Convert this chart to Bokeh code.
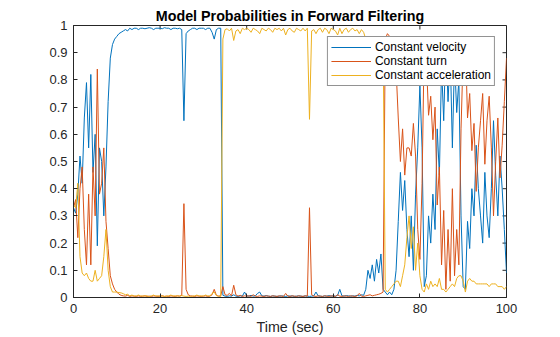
import numpy as np
from bokeh.plotting import figure
from bokeh.models import Range1d, FixedTicker, Legend, LegendItem
from bokeh.embed import file_html
from bokeh.resources import INLINE

# ---------------- data ----------------
time_sec = np.arange(0, 100.5, 0.5)

prob_constant_velocity = [
    0.33, 0.31, 0.38, 0.52, 0.42, 0.66, 0.79, 0.55, 0.82, 0.46,
    0.60, 0.19, 0.55, 0.50, 0.30, 0.48, 0.72, 0.88, 0.93, 0.95,
    0.96, 0.97, 0.975, 0.98, 0.985, 0.98, 0.99, 0.985, 0.99, 0.99,
    0.985, 0.99, 0.99, 0.988, 0.99, 0.992, 0.99, 0.985, 0.99, 0.99,
    0.99, 0.988, 0.992, 0.99, 0.99, 0.985, 0.99, 0.99, 0.988, 0.99,
    0.985, 0.65, 0.97, 0.98, 0.985, 0.99, 0.99, 0.985, 0.99, 0.99,
    0.99, 0.985, 0.99, 0.99, 0.975, 0.95, 0.985, 0.99, 0.99, 0.008,
    0.005, 0.004, 0.006, 0.005, 0.01, 0.005, 0.004, 0.006, 0.005, 0.02,
    0.006, 0.005, 0.008, 0.005, 0.006, 0.015, 0.02, 0.006, 0.005, 0.007,
    0.005, 0.004, 0.006, 0.005, 0.004, 0.005, 0.006, 0.005, 0.004, 0.006,
    0.005, 0.006, 0.004, 0.005, 0.006, 0.005, 0.004, 0.006, 0.005, 0.004,
    0.005, 0.006, 0.02, 0.006, 0.005, 0.004, 0.006, 0.005, 0.007, 0.005,
    0.006, 0.005, 0.008, 0.03, 0.006, 0.005, 0.007, 0.006, 0.005, 0.006,
    0.005, 0.008, 0.006, 0.01, 0.008, 0.03, 0.10, 0.07, 0.12, 0.06,
    0.14, 0.09, 0.16, 0.03, 0.02, 0.01, 0.02, 0.01, 0.03, 0.10,
    0.28, 0.46, 0.32, 0.43, 0.25, 0.15, 0.30, 0.10, 0.38, 0.55,
    0.78, 0.55, 0.04, 0.08, 0.30, 0.20, 0.38, 0.25, 0.62, 0.45,
    0.85, 0.65, 0.95, 0.72, 0.90, 0.55, 0.88, 0.68, 0.80, 0.30,
    0.04, 0.03, 0.28, 0.18, 0.40, 0.30, 0.56, 0.40, 0.30, 0.20,
    0.46, 0.30, 0.22, 0.40, 0.65, 0.45, 0.30, 0.52, 0.40, 0.25,
    0.09,
]

prob_constant_turn = [
    0.33, 0.36, 0.22, 0.40, 0.48, 0.25, 0.12, 0.38, 0.12, 0.48,
    0.30, 0.84, 0.38, 0.42, 0.55, 0.28, 0.18, 0.08, 0.05, 0.03,
    0.02, 0.012, 0.008, 0.006, 0.005, 0.008, 0.004, 0.006, 0.005, 0.004,
    0.006, 0.004, 0.005, 0.006, 0.004, 0.005, 0.004, 0.006, 0.005, 0.004,
    0.005, 0.006, 0.004, 0.005, 0.004, 0.006, 0.005, 0.004, 0.006, 0.005,
    0.008, 0.345, 0.03, 0.01, 0.006, 0.005, 0.004, 0.006, 0.005, 0.004,
    0.005, 0.006, 0.004, 0.005, 0.01, 0.03, 0.008, 0.005, 0.006, 0.04,
    0.01, 0.008, 0.015, 0.006, 0.045, 0.01, 0.005, 0.008, 0.004, 0.006,
    0.005, 0.006, 0.004, 0.01, 0.005, 0.004, 0.006, 0.005, 0.004, 0.006,
    0.005, 0.004, 0.006, 0.005, 0.004, 0.006, 0.005, 0.004, 0.015, 0.005,
    0.004, 0.006, 0.005, 0.004, 0.006, 0.005, 0.004, 0.006, 0.005, 0.33,
    0.01, 0.005, 0.004, 0.006, 0.005, 0.004, 0.006, 0.005, 0.004, 0.006,
    0.005, 0.004, 0.01, 0.005, 0.004, 0.006, 0.005, 0.004, 0.006, 0.005,
    0.004, 0.006, 0.015, 0.005, 0.004, 0.006, 0.008, 0.01, 0.006, 0.008,
    0.01, 0.012, 0.015, 0.02, 0.95, 0.97, 0.96, 0.95, 0.92, 0.84,
    0.66, 0.50, 0.62, 0.45, 0.55, 0.55, 0.52, 0.64, 0.52, 0.25,
    0.14, 0.42, 0.94, 0.87, 0.67, 0.74, 0.58, 0.70, 0.34, 0.48,
    0.12, 0.32, 0.03, 0.25, 0.06, 0.40, 0.08, 0.25, 0.12, 0.62,
    0.90, 0.95, 0.66, 0.75, 0.54, 0.64, 0.39, 0.55, 0.65, 0.75,
    0.49, 0.65, 0.74, 0.55, 0.30, 0.50, 0.66, 0.44, 0.56, 0.72,
    0.88,
]

prob_constant_acceleration = [
    0.34, 0.33, 0.42, 0.15, 0.09, 0.08, 0.09, 0.07, 0.06, 0.06,
    0.10, 0.06, 0.07, 0.08, 0.15, 0.25, 0.10, 0.04, 0.02, 0.02,
    0.02, 0.018, 0.017, 0.014, 0.01, 0.012, 0.006, 0.009, 0.005, 0.006,
    0.009, 0.006, 0.005, 0.006, 0.006, 0.003, 0.006, 0.009, 0.005, 0.006,
    0.005, 0.006, 0.004, 0.005, 0.006, 0.009, 0.005, 0.006, 0.006, 0.005,
    0.007, 0.005, 0.004, 0.005, 0.004, 0.005, 0.006, 0.009, 0.005, 0.006,
    0.005, 0.009, 0.006, 0.005, 0.015, 0.02, 0.007, 0.005, 0.004, 0.95,
    0.985, 0.988, 0.98, 0.99, 0.945, 0.98, 0.985, 0.97, 0.99, 0.985,
    0.99, 0.985, 0.975, 0.99, 0.985, 0.98, 0.97, 0.99, 0.985, 0.98,
    0.99, 0.985, 0.975, 0.99, 0.985, 0.99, 0.98, 0.99, 0.965, 0.985,
    0.99, 0.98, 0.975, 0.99, 0.985, 0.98, 0.99, 0.98, 0.99, 0.655,
    0.98, 0.985, 0.97, 0.985, 0.99, 0.975, 0.99, 0.985, 0.97, 0.99,
    0.985, 0.98, 0.965, 0.99, 0.97, 0.985, 0.99, 0.975, 0.985, 0.99,
    0.98, 0.985, 0.97, 0.985, 0.975, 0.95, 0.88, 0.92, 0.87, 0.92,
    0.85, 0.90, 0.83, 0.95, 0.03, 0.02, 0.03, 0.04, 0.05, 0.06,
    0.06, 0.04, 0.08, 0.12, 0.22, 0.30, 0.18, 0.26, 0.10, 0.20,
    0.08, 0.03, 0.02, 0.05, 0.03, 0.06, 0.04, 0.05, 0.04, 0.07,
    0.03, 0.03, 0.02, 0.03, 0.04, 0.05, 0.04, 0.07, 0.08, 0.08,
    0.06, 0.02, 0.06, 0.07, 0.06, 0.06, 0.05, 0.05, 0.05, 0.05,
    0.05, 0.05, 0.04, 0.05, 0.05, 0.05, 0.04, 0.04, 0.04, 0.03,
    0.04,
]

series_names = ["Constant velocity", "Constant turn", "Constant acceleration"]
series_colors = ["#0072BD", "#D95319", "#EDB120"]
x_ticks = [0, 20, 40, 60, 80, 100]
y_ticks = [0, 0.1, 0.2, 0.3, 0.4, 0.5, 0.6, 0.7, 0.8, 0.9, 1]
y_tick_labels = ["0", "0.1", "0.2", "0.3", "0.4", "0.5", "0.6", "0.7", "0.8", "0.9", "1"]

FONT = "Liberation Sans"
AX = "#262626"
X0, X1, Y0, Y1 = 0, 100, 0, 1
FRAME_W, FRAME_H = 433.5, 272.0   # approximate frame size in px (for inner tick length)
TICK_PX = 4

p = figure(width=560, height=337, output_backend="svg", toolbar_location=None,
           x_range=Range1d(X0, X1), y_range=Range1d(Y0, Y1),
           min_border_left=73, min_border_right=54, min_border_top=25, min_border_bottom=39)
p.background_fill_color = "white"
p.border_fill_color = "white"
p.outline_line_color = AX
p.outline_line_width = 1
p.xgrid.grid_line_color = None
p.ygrid.grid_line_color = None

p.title.text = "Model Probabilities in Forward Filtering"
p.title.align = "center"
p.title.text_font = FONT
p.title.text_font_size = "14.3px"
p.title.text_font_style = "bold"
p.title.text_color = "black"
p.title.standoff = 4
p.title.offset = 0

def style_axis(ax):
    ax.axis_line_color = AX
    ax.major_tick_line_color = AX
    ax.major_tick_in = TICK_PX
    ax.major_tick_out = 0
    ax.minor_tick_in = 0
    ax.minor_tick_out = 0
    ax.major_label_text_font = FONT
    ax.major_label_text_color = AX
    ax.major_label_text_font_size = "13px"

xa = p.xaxis[0]
xa.ticker = FixedTicker(ticks=x_ticks)
style_axis(xa)
xa.major_label_standoff = 6
xa.axis_label = "Time (sec)"
xa.axis_label_text_font = FONT
xa.axis_label_text_font_size = "14.3px"
xa.axis_label_text_font_style = "normal"
xa.axis_label_text_color = AX
xa.axis_label_standoff = 3

ya = p.yaxis[0]
ya.ticker = FixedTicker(ticks=y_ticks)
ya.major_label_overrides = {v: s for v, s in zip(y_ticks, y_tick_labels)}
style_axis(ya)
ya.major_label_standoff = 6

# inner ticks on the top and right edges of the box (MATLAB "box on")
dy = TICK_PX / FRAME_H * (Y1 - Y0)
dx = TICK_PX / FRAME_W * (X1 - X0)
p.segment(x0=x_ticks, y0=[Y1] * len(x_ticks), x1=x_ticks, y1=[Y1 - dy] * len(x_ticks),
          line_color=AX, line_width=1)
p.segment(x0=[X1] * len(y_ticks), y0=y_ticks, x1=[X1 - dx] * len(y_ticks), y1=y_ticks,
          line_color=AX, line_width=1)

renderers = []
for vals, color in zip([prob_constant_velocity, prob_constant_turn, prob_constant_acceleration], series_colors):
    r = p.line(time_sec, vals, line_color=color, line_width=1)
    renderers.append(r)

legend = Legend(items=[LegendItem(label=n, renderers=[r]) for n, r in zip(series_names, renderers)],
                location="top_right", margin=11, padding=3, spacing=0,
                glyph_width=40, glyph_height=14, label_height=14, label_standoff=4,
                label_text_font=FONT, label_text_font_size="12px", label_text_color="black",
                border_line_color=AX, border_line_width=1, background_fill_color="white",
                background_fill_alpha=1)
p.add_layout(legend)

open("out.html", "w").write(file_html(p, INLINE))
